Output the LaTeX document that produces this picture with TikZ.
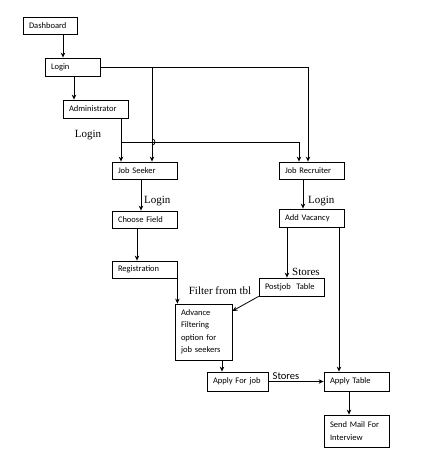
\documentclass[tikz,border=0pt]{standalone}
\usepackage{fontspec}
\setmainfont{Liberation Serif}
\newfontfamily\boxfont{Carlito}
\usetikzlibrary{arrows.meta}
\begin{document}
\begin{tikzpicture}[x=1pt,y=-1pt,
  blk/.style={draw,line width=0.8pt,inner xsep=6pt,inner ysep=0pt,
    minimum height=18pt,align=left,anchor=center,
    font=\boxfont\fontsize{8.5}{12.5}\selectfont},
  conn/.style={line width=0.8pt},
  arr/.style={conn,-{Stealth[length=5pt,width=4.5pt]}},
  lbl/.style={font=\fontsize{11}{13}\selectfont,inner sep=0pt},
  slbl/.style={font=\boxfont\fontsize{10.5}{12}\selectfont,inner sep=0pt}]
\useasboundingbox (0,0) rectangle (430,459);

% boxes
\node[blk,text width=42pt,minimum height=17pt] (dash) at (50,25.5) {Dashboard};
\node[blk,text width=43pt] (login) at (72.5,67) {Login};
\node[blk,text width=53pt] (admin) at (95.5,109) {Administrator};
\node[blk,text width=53pt,minimum height=17pt] (seeker) at (144.5,170.5) {Job Seeker};
\node[blk,text width=53pt,minimum height=17pt] (recruit) at (311.5,170.5) {Job Recruiter};
\node[blk,text width=53pt,minimum height=17pt] (choose) at (144.5,219.5) {Choose Field};
\node[blk,text width=53pt,minimum height=17pt] (reg) at (144.5,269.5) {Registration};
\node[blk,text width=53pt] (vacancy) at (311.5,218) {Add Vacancy};
\node[blk,text width=53pt] (postjob) at (291.5,287) {Postjob~~Table};
\node[blk,text width=45pt,minimum height=56pt] (adv) at (203.5,332)
  {Advance\\Filtering\\option for\\job seekers};
\node[blk,text width=49pt,minimum height=19pt] (applyjob) at (237.5,381.5) {Apply For job};
\node[blk,text width=53pt,minimum height=19pt] (applytbl) at (356.5,381.5) {Apply Table};
\node[blk,text width=53pt,minimum height=32pt] (mail) at (356.5,431)
  {Send Mail For\\Interview};

% text labels
\node[lbl] (l1) at (88,135) {Login};
\node[lbl,anchor=west] (l2) at (144,201) {Login};
\node[lbl,anchor=west] (l3) at (308,201) {Login};
\node[lbl,anchor=west] (s1) at (292,272) {Stores};
\node[lbl] (f1) at (220,291) {Filter from tbl};
\node[slbl] (s2) at (286,376) {Stores};

% connectors
\draw[arr] (63,0 |- dash.south) -- (63,0 |- login.north);
\draw[arr] (74,0 |- login.south) -- (74,0 |- admin.north);
\draw[arr] (login.east) -- (308,67) -- (308,0 |- recruit.north);
\draw[arr] (152,67) -- (152,0 |- seeker.north);
\draw[arr] (121,0 |- admin.south) -- (121,0 |- seeker.north);
\draw[arr] (121,142) -- (299,142) -- (299,0 |- recruit.north);
\draw[conn] (152,139) .. controls (156,139) and (156,145) .. (152,145);
\draw[arr] (141,0 |- seeker.south) -- (141,0 |- choose.north);
\draw[arr] (137,0 |- choose.south) -- (137,0 |- reg.north);
\draw[arr] (reg.south east) -- (reg.south east |- adv.north);
\draw[arr] (303,0 |- recruit.south) -- (303,0 |- vacancy.north);
\draw[arr] (287,0 |- vacancy.south) -- (287,0 |- postjob.north);
\draw[arr] (339,0 |- vacancy.south) -- (339,0 |- applytbl.north);
\draw[arr] (postjob.south west) -- (adv.east |- 0,311);
\draw[arr] (222,0 |- adv.south) -- (222,0 |- applyjob.north);
\draw[arr] (applyjob.east) -- (applytbl.west);
\draw[arr] (349,0 |- applytbl.south) -- (349,0 |- mail.north);
\end{tikzpicture}
\end{document}
